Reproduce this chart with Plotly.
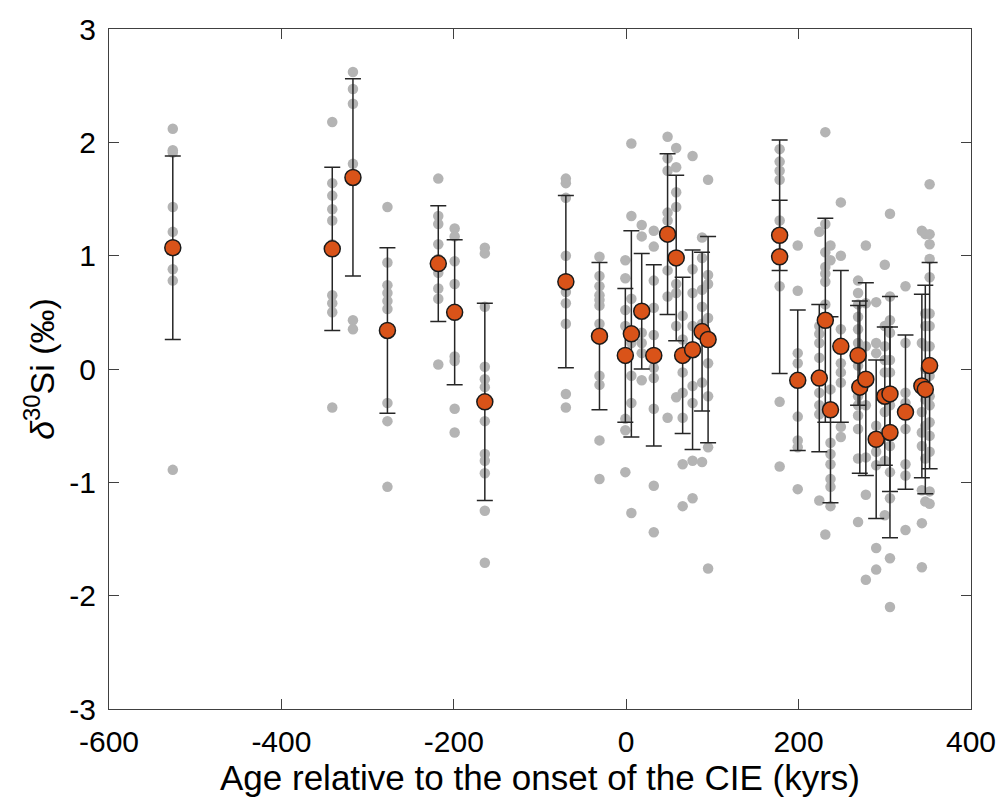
import plotly.graph_objects as go

# ---- Data ----
# Mean values with error bars
mean_age = [-526, -341, -317, -277, -218, -199, -164, -70, -31, -1, 6, 18, 32, 48, 58, 65.5, 77, 88, 95,
            178, 178, 199, 224, 231, 237, 249, 269, 271, 278, 290, 300, 306, 306, 324, 343, 347, 352]
mean_d30si = [1.07, 1.06, 1.69, 0.34, 0.93, 0.50, -0.29, 0.77, 0.29, 0.12, 0.31, 0.51, 0.12, 1.19, 0.98, 0.12, 0.17, 0.33, 0.26,
              1.18, 0.99, -0.10, -0.08, 0.43, -0.36, 0.20, 0.12, -0.16, -0.09, -0.62, -0.24, -0.22, -0.56, -0.38, -0.15, -0.18, 0.03]
mean_err = [0.81, 0.72, 0.87, 0.73, 0.51, 0.64, 0.87, 0.76, 0.65, 0.59, 0.91, 0.51, 0.80, 0.71, 0.73, 0.69, 0.88, 0.70, 0.91,
            0.31, 1.03, 0.62, 0.65, 0.90, 0.82, 0.67, 0.44, 0.76, 0.85, 0.70, 0.61, 0.86, 0.93, 0.68, 0.81, 0.92, 0.91]

# Individual measurements, grouped by age column
grey_age = [-526, -341, -317, -277, -218, -199, -164, -70, -31, -1, 6, 18, 32, 48, 58, 65.5, 77, 88, 95,
            178, 199, 224, 231, 237, 249, 269, 278, 290, 300, 306, 324, 343, 347, 352]
grey_vals = [
    [2.12, 1.93, 1.91, 1.43, 1.21, 1.10, 0.88, 0.78, -0.89],
    [2.18, 1.64, 1.53, 1.41, 1.31, 1.10, 0.65, 0.58, 0.50, -0.34],
    [2.62, 2.47, 2.34, 1.81, 1.70, 0.43, 0.35],
    [1.43, 0.94, 0.74, 0.67, 0.60, 0.53, -0.30, -0.46, -1.04],
    [1.68, 1.35, 1.28, 1.10, 0.97, 0.85, 0.71, 0.62, 0.04],
    [1.24, 1.17, 0.95, 0.75, 0.11, 0.07, -0.35, -0.56],
    [1.07, 1.02, 0.55, 0.02, -0.09, -0.16, -0.46, -0.75, -0.81, -0.92, -1.25, -1.71],
    [1.68, 1.64, 1.51, 1.00, 0.80, 0.68, 0.58, 0.40, -0.22, -0.34],
    [0.99, 0.82, 0.73, 0.65, 0.61, 0.56, 0.40, -0.06, -0.14, -0.63, -0.97],
    [0.96, 0.80, 0.52, 0.38, -0.44, -0.54, -0.91],
    [1.99, 1.35, 0.62, 0.23, -0.06, -0.30, -1.27],
    [1.27, 1.17, 0.32, 0.23, 0.14, -0.10],
    [1.22, 1.08, 0.78, 0.54, 0.30, 0.01, -0.08, -0.35, -1.03, -1.44],
    [2.05, 1.86, 1.75, 1.38, 1.31, 0.87, 0.64, -0.43],
    [1.95, 1.78, 1.56, 1.43, 0.75, 0.67, 0.38, -0.25],
    [0.47, 0.26, -0.03, -0.21, -0.43, -0.84, -1.21],
    [1.88, 0.88, 0.67, 0.38, -0.15, -0.30, -0.81, -1.14],
    [1.16, 0.98, 0.70, 0.55, 0.40, -0.12, -0.82],
    [1.67, 0.83, 0.75, 0.45, 0.05, -0.24, -0.69, -1.76],
    [1.94, 1.83, 1.75, 1.67, 1.31, 0.73, -0.29, -0.86],
    [1.09, 0.69, 0.14, 0.05, -0.42, -0.63, -0.69, -1.06],
    [1.21, 0.38, 0.31, 0.23, 0.10, -0.21, -0.32, -0.40, -1.16],
    [2.09, 1.28, 1.03, 0.90, 0.84, 0.77, 0.57, -1.46],
    [1.09, 0.96, -0.18, -0.65, -0.75, -0.84, -0.97, -1.04, -1.21],
    [1.47, 1.00, 0.35, 0.05, -0.03, -0.12, -0.51, -0.60],
    [0.78, 0.67, 0.57, 0.46, 0.35, 0.23, 0.03, -0.24, -0.32, -0.41, -0.53, -0.79, -1.35],
    [1.09, 0.58, 0.20, -0.32, -0.78, -1.11, -1.86],
    [0.59, 0.23, 0.14, -0.50, -0.73, -0.85, -1.58, -1.77],
    [0.92, 0.38, 0.20, 0.08, -0.03, -0.38, -0.56, -0.81, -1.29],
    [1.37, 0.64, 0.43, 0.32, 0.08, -0.03, -0.32, -0.68, -0.91, -1.14, -1.67, -2.10],
    [0.73, 0.23, -0.21, -0.30, -0.53, -0.84, -0.94, -1.42],
    [1.22, 0.23, -0.38, -0.56, -0.68, -1.07, -1.36, -1.75],
    [1.19, 0.49, 0.38, 0.20, 0.00, -0.27, -0.50, -0.79, -1.17],
    [1.63, 1.19, 1.10, 0.97, 0.81, 0.49, 0.38, 0.20, -0.06, -0.24, -0.32, -0.47, -0.59, -0.73, -1.08, -1.19],
]

x_ticks = [-600, -400, -200, 0, 200, 400]
y_ticks = [-3, -2, -1, 0, 1, 2, 3]

# ---- Build flattened grey arrays ----
gx, gy = [], []
for a, vals in zip(grey_age, grey_vals):
    for v in vals:
        gx.append(a)
        gy.append(v)

FONT = "Liberation Sans, Arial, sans-serif"
AXC = "#404040"

fig = go.Figure()
fig.add_trace(go.Scatter(
    x=gx, y=gy, mode="markers",
    marker=dict(size=10.5, color="#b4b4b4", line=dict(width=0)),
    hoverinfo="x+y", showlegend=False))
fig.add_trace(go.Scatter(
    x=mean_age, y=mean_d30si, mode="markers",
    error_y=dict(type="data", array=mean_err, visible=True, color="#262626", thickness=1.5, width=8),
    marker=dict(size=16, color="#d95319", line=dict(width=1.5, color="#1a1a1a")),
    showlegend=False))

fig.update_layout(
    width=1008, height=806,
    margin=dict(l=109, r=30, t=23, b=97),
    paper_bgcolor="white", plot_bgcolor="white",
    font=dict(family=FONT, color="black"),
    xaxis=dict(range=[-600, 400], tickvals=x_ticks, ticktext=[str(v) for v in x_ticks],
               ticks="inside", ticklen=10, tickwidth=1, tickcolor=AXC,
               showline=True, linecolor=AXC, linewidth=1, mirror="ticks",
               showgrid=False, zeroline=False,
               tickfont=dict(size=30, family=FONT, color="black"),
               ticklabelstandoff=6,
               title=dict(text="Age relative to the onset of the CIE (kyrs)",
                          font=dict(size=35, family=FONT, color="black"), standoff=2)),
    yaxis=dict(range=[-3, 3], tickvals=y_ticks, ticktext=[str(v) for v in y_ticks],
               ticks="inside", ticklen=10, tickwidth=1, tickcolor=AXC,
               showline=True, linecolor=AXC, linewidth=1, mirror="ticks",
               showgrid=False, zeroline=False,
               tickfont=dict(size=30, family=FONT, color="black"),
               ticklabelstandoff=6,
               title=dict(text="<i>δ</i><sup>30</sup>Si (‰)",
                          font=dict(size=34, family=FONT, color="black"), standoff=4)),
)

fig.write_html("out.html", config={"displayModeBar": False},
               post_script="document.body.style.margin='0';")
